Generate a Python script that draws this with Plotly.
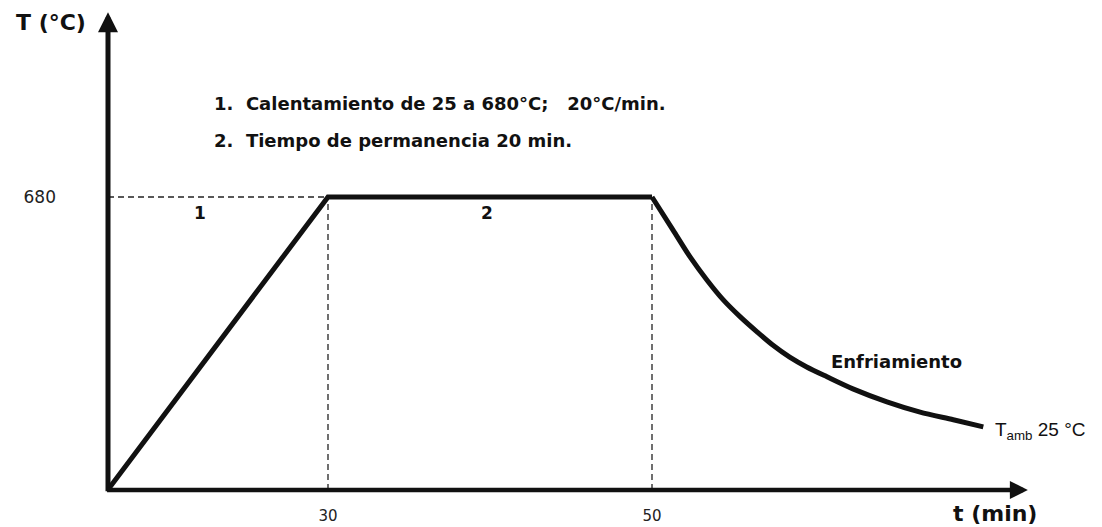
import plotly.graph_objects as go

# ---- data (schematic thermal cycle) ----
t_heat_hold = [16.4, 30, 50]          # min
T_heat_hold = [25, 680, 680]          # °C
t_cool = [50.0, 51.3, 52.35, 53.4, 54.4, 55.45, 56.5, 57.45, 58.5, 59.55,
          60.8, 62.4, 64.5, 66.55, 68.6, 70.45]
T_cool = [680, 606, 546, 494, 450, 412, 378, 349, 322, 300,
          278, 251, 222, 199, 182, 166]
x_ticks = [30, 50]
x_ticktext = ["30", "50"]
y_ticks = [680]
y_ticktext = ["680"]
notes = ["1.  Calentamiento de 25 a 680°C;   20°C/min.",
         "2.  Tiempo de permanencia 20 min."]
stage_labels = ["1", "2"]

# ---- axis ranges ----
X_LO, X_HI = 16.42, 73.95
Y_LO, Y_HI = 25.0, 1098.0
X_TIP = 73.2      # arrow tip of time axis
Y_TIP = 1093.0    # arrow tip of temperature axis

INK = "#111111"
BOLD = dict(family="DejaVu Sans", size=18, color=INK, weight="bold")

fig = go.Figure()
fig.add_trace(go.Scatter(x=t_heat_hold, y=T_heat_hold, mode="lines",
                         line=dict(color=INK, width=5), hoverinfo="skip"))
fig.add_trace(go.Scatter(x=t_cool, y=T_cool, mode="lines",
                         line=dict(color=INK, width=5, shape="spline", smoothing=0.8),
                         hoverinfo="skip"))

# dashed guide lines
dash = dict(color="#222222", width=1.3, dash="6px,4px")
fig.add_shape(type="line", x0=X_LO, x1=30, y0=680, y1=680, line=dash, layer="below")
for tv in x_ticks:
    fig.add_shape(type="line", x0=tv, x1=tv, y0=Y_LO, y1=680, line=dash, layer="below")

# axis arrows
fig.add_annotation(x=X_LO, y=Y_TIP, ax=X_LO, ay=Y_LO - 6, xref="x", yref="y",
                   axref="x", ayref="y", text="", showarrow=True,
                   arrowhead=2, arrowsize=0.8, arrowwidth=5, arrowcolor=INK)
fig.add_annotation(x=X_TIP, y=Y_LO, ax=X_LO - 0.15, ay=Y_LO, xref="x", yref="y",
                   axref="x", ayref="y", text="", showarrow=True,
                   arrowhead=2, arrowsize=0.8, arrowwidth=4.5, arrowcolor=INK)

# texts
fig.add_annotation(x=22.84, y=890, text=notes[0], showarrow=False,
                   xanchor="left", yanchor="middle", font=BOLD)
fig.add_annotation(x=22.84, y=807, text=notes[1], showarrow=False,
                   xanchor="left", yanchor="middle", font=BOLD)
fig.add_annotation(x=22.1, y=644, text=stage_labels[0], showarrow=False,
                   font=dict(BOLD, size=17))
fig.add_annotation(x=39.82, y=644, text=stage_labels[1], showarrow=False,
                   font=dict(BOLD, size=17))
fig.add_annotation(x=65.12, y=313, text="Enfriamiento", showarrow=False, font=BOLD)
fig.add_annotation(x=71.05, y=157, text="T<sub>amb</sub> 25 °C", showarrow=False,
                   xanchor="left", yanchor="middle",
                   font=dict(family="Liberation Sans", size=19, color=INK))
# axis titles (outside the plotting range -> paper coordinates)
fig.add_annotation(x=-0.0612, y=0.973, xref="paper", yref="paper", text="T (°C)",
                   showarrow=False, xanchor="center", yanchor="middle",
                   font=dict(family="DejaVu Sans", size=22, color=INK, weight="bold"))
fig.add_annotation(x=0.9517, y=-0.048, xref="paper", yref="paper", text="t (min)",
                   showarrow=False, xanchor="center", yanchor="middle",
                   font=dict(family="DejaVu Sans", size=22, color=INK, weight="bold"))

fig.update_layout(
    width=1094, height=519,
    margin=dict(l=100, r=62, t=2, b=37, autoexpand=False),
    paper_bgcolor="white", plot_bgcolor="white",
    showlegend=False,
    xaxis=dict(range=[X_LO, X_HI], showgrid=False, zeroline=False, showline=False,
               automargin=False,
               tickvals=x_ticks, ticktext=x_ticktext, ticks="", ticklabelstandoff=15,
               tickfont=dict(family="DejaVu Sans", size=15, color="#222222")),
    yaxis=dict(range=[Y_LO, Y_HI], showgrid=False, zeroline=False, showline=False,
               automargin=False,
               tickvals=y_ticks, ticktext=y_ticktext, ticks="", ticklabelstandoff=51,
               tickfont=dict(family="DejaVu Sans", size=17, color="#222222")),
)

fig.write_html("out.html")
